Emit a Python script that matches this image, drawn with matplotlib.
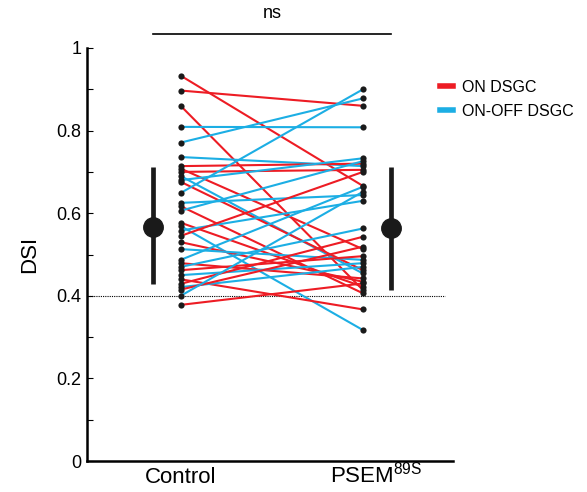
import matplotlib
matplotlib.use("Agg")
import matplotlib.pyplot as plt
from matplotlib.lines import Line2D

plt.rcParams.update({
    "font.family": ["Liberation Sans", "DejaVu Sans"],
    "mathtext.fontset": "custom",
    "mathtext.rm": "Liberation Sans",
})

# ==================================================
# data
# ==================================================
conditions = ["Control", r"PSEM$^{\mathregular{89S}}$"]

dsi_control = [0.933, 0.897, 0.860, 0.809, 0.771, 0.736, 0.714, 0.708, 0.700,
               0.690, 0.680, 0.676, 0.649, 0.625, 0.617, 0.606, 0.577, 0.569,
               0.558, 0.545, 0.530, 0.513, 0.487, 0.479, 0.470, 0.462, 0.450,
               0.440, 0.429, 0.421, 0.415, 0.400, 0.378]
dsi_psem = [0.666, 0.860, 0.414, 0.808, 0.878, 0.714, 0.720, 0.513, 0.705,
            0.454, 0.733, 0.462, 0.900, 0.644, 0.406, 0.726, 0.422, 0.317,
            0.630, 0.700, 0.434, 0.487, 0.664, 0.442, 0.563, 0.496, 0.479,
            0.367, 0.543, 0.470, 0.519, 0.652, 0.430]
cell_type = ["ON", "ON", "ON", "ONOFF", "ONOFF", "ONOFF", "ON", "ON", "ON",
             "ONOFF", "ONOFF", "ON", "ONOFF", "ONOFF", "ON", "ONOFF", "ON", "ONOFF",
             "ONOFF", "ON", "ON", "ONOFF", "ONOFF", "ON", "ONOFF", "ON", "ONOFF",
             "ON", "ON", "ONOFF", "ON", "ONOFF", "ON"]

group_mean = [0.567, 0.563]
group_low = [0.429, 0.414]
group_high = [0.713, 0.713]

threshold = 0.4

COLORS = {"ON": "#ED1C24", "ONOFF": "#1CAEE4"}
LABELS = {"ON": "ON DSGC", "ONOFF": "ON-OFF DSGC"}

# ==================================================
# figure
# ==================================================
fig = plt.figure(figsize=(5.87, 4.92), dpi=100)
ax = fig.add_axes([87 / 587, 31 / 492, 366 / 587, 413 / 492])

x_ctrl, x_psem = 1.0, 2.0
x_mean = [0.848, 2.154]

# paired lines
for c, p, t in zip(dsi_control, dsi_psem, cell_type):
    ax.plot([x_ctrl, x_psem], [c, p], color=COLORS[t], lw=1.5, zorder=2)

# dots
ax.scatter([x_ctrl] * len(dsi_control), dsi_control, s=20, color="#1a1a1a", zorder=3, lw=0)
ax.scatter([x_psem] * len(dsi_psem), dsi_psem, s=20, color="#1a1a1a", zorder=3, lw=0)

# mean +/- sd
for xm, m, lo, hi in zip(x_mean, group_mean, group_low, group_high):
    ax.plot([xm, xm], [lo, hi], color="#1a1a1a", lw=3.4, solid_capstyle="butt", zorder=3)
    ax.plot(xm, m, "o", color="#1a1a1a", ms=14, zorder=4)

# threshold line
ax.plot([0.486, 2.45], [threshold, threshold], color="black", lw=0.8,
        linestyle=(0, (1, 1)), zorder=1)

# ns bracket
ax.plot(x_mean, [1.034, 1.034], color="black", lw=1.2, clip_on=False)
ax.text(sum(x_mean) / 2, 1.062, "ns", ha="center", va="bottom", fontsize=13, clip_on=False)

ax.set_xlim(0.486, 2.494)
ax.set_ylim(0, 1)
ax.set_yticks([0, 0.2, 0.4, 0.6, 0.8, 1.0])
ax.set_yticklabels(["0", "0.2", "0.4", "0.6", "0.8", "1"], fontsize=13)
ax.set_yticks([0.1, 0.3, 0.5, 0.7, 0.9], minor=True)
ax.tick_params(axis="y", which="both", direction="in", length=4, width=0.8, pad=4)
ax.set_xticks([])
ax.set_ylabel("DSI", fontsize=16, labelpad=12)

# category labels, baseline-aligned
trans = ax.get_xaxis_transform()
ax.text(x_ctrl, -0.053, conditions[0], transform=trans, ha="center", va="baseline", fontsize=16)
ax.text(x_psem + 0.07, -0.053, conditions[1], transform=trans, ha="center", va="baseline", fontsize=16)

for side in ["top", "right"]:
    ax.spines[side].set_visible(False)
ax.spines["left"].set_linewidth(1.8)
ax.spines["bottom"].set_linewidth(1.8)

# legend
handles = [Line2D([0], [0], color=COLORS[k], lw=4) for k in ["ON", "ONOFF"]]
fig.legend(handles, [LABELS[k] for k in ["ON", "ONOFF"]], loc="upper left",
           bbox_to_anchor=(432 / 587, 1 - 72 / 492), frameon=False, fontsize=11.5,
           handlelength=0.8, handletextpad=0.6, labelspacing=0.55, borderpad=0)

fig.savefig("out.png", dpi=100)
